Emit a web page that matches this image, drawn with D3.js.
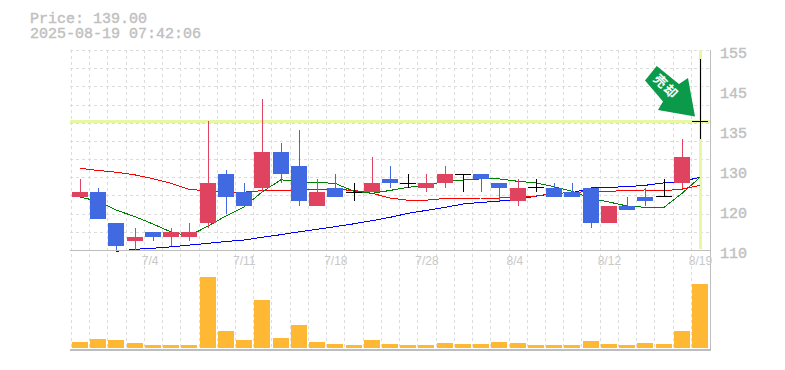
<!DOCTYPE html>
<html lang="en">

<head>
  <meta charset="UTF-8">
  <title>Price chart</title>
  <style>
    html, body { margin: 0; padding: 0; background: #fff; overflow: hidden; }
    text { font-family: "Liberation Mono", monospace; }
  </style>
</head>

<body>
  <svg id="chart" width="785" height="370"></svg>

  <script src="https://cdnjs.cloudflare.com/ajax/libs/d3/7.8.5/d3.min.js"></script>
  <script>
    const dates = ["6/30","7/1","7/2","7/3","7/4","7/7","7/8","7/9","7/10","7/11","7/14","7/15","7/16","7/17","7/18",
      "7/22","7/23","7/24","7/25","7/28","7/29","7/30","7/31","8/1","8/4","8/5","8/6","8/7","8/8","8/12","8/13","8/14","8/15","8/18","8/19"];
    const opens = [122,123,116,112,114,113,113,116,127,123,124,132,129,120,124,123,123,126,125,124,125,127,127,125,121,124,124,123,124,116,120,122,122,125,139];
    const closes = [123,117,111,113,113,114,114,125,122,120,132,127,121,123,122,123,125,125,125,125,127,127,126,124,124,124,122,122,116,120,119,121,122,131,139];
    const highs = [126,124,116,115,114,115,116,139,128,125,144,134,137,126,127,125,131,129,127,127,129,127,127,125,126,126,125,125,124,120,122,124,126,135,153];
    const lows = [122,117,110,110,112,111,112,115,118,120,123,125,120,120,122,121,123,124,124,123,124,123,123,121,120,123,122,122,115,116,119,120,122,124,135];
    const maShort = [121.9,121,119,117.5,115.85,114.05,113.15,115.4,117.65,119.7,123.05,125.8,125.3,125.2,125,123.2,122.75,123.4,124.1,124.6,125.4,125.75,126,126,125.45,125.1,124.25,123.2,121.6,120.8,119.9,119.6,119.6,122.75,126.35];
    const maMid = [128.4,127.9,127.5,126.9,126.05,125,123.65,123.3,123.05,123,123.35,123.4,123.4,123.65,123.65,123.4,122.75,121.7,121.2,121.2,121.6,121.6,121.7,121.7,121.9,122.15,122.75,122.9,123.2,123.2,123.4,123.5,123.35,123.7,124.55];
    const maLong = [null,null,109.7,110.15,110.4,110.7,111.1,111.5,111.9,112.25,112.85,113.45,114.1,114.65,115.25,115.9,116.6,117.35,118.25,118.9,119.6,120.35,120.7,121,121.4,122.1,122.75,122.9,123.95,124.1,124.25,124.55,125.1,125.45,126.35];
    const volumes = [6,9,8,5,3,3,3,71,17,8,48,10,23,6,4,3,8,4,3,3,5,4,4,6,5,3,3,3,7,4,3,5,4,17,64];
    const lastPrice = 139;
    const priceText = "Price: 139.00";
    const timeText = "2025-08-19 07:42:06";
    const priceTicks = [155,146,137,128,119,110];
    const priceTickLabels = ["155","145","135","130","120","110"];
    const dateTicks = ["7/4","7/11","7/18","7/28","8/4","8/12","8/19"];
    const priceGridTicks = d3.range(0, 12).map(i => 110 + i * 45 / 11);

    const left = 70, right = 710, priceTop = 50, priceBottom = 250, volBottom = 350;
    const gridColor = "#dcdcdc", axisColor = "#bdbdbd", labelColor = "#c0c0c0";
    const upColor = "#e04360", downColor = "#4169e1", dojiColor = "#000";

    const svg = d3.select("#chart");

    const x = d3.scaleBand().domain(dates).range([left + 0.9, right - 0.9]);
    const cx = d => Math.round(x(d) + x.bandwidth() / 2);
    const y = d3.scaleLinear().domain([110, 155]).range([priceBottom, priceTop]);
    const yVol = d3.scaleLinear().domain([0, 71]).range([348, 277]);

    // Grid
    const grid = svg.append("g").attr("stroke", gridColor).attr("stroke-dasharray", "3,3")
      .attr("stroke-width", 1).attr("shape-rendering", "crispEdges");
    grid.selectAll("line.v").data(dates).enter().append("line")
      .attr("x1", d => Math.round(x(d))).attr("x2", d => Math.round(x(d)))
      .attr("y1", priceTop).attr("y2", volBottom);
    grid.selectAll("line.h").data(priceGridTicks).enter().append("line")
      .attr("x1", left).attr("x2", right)
      .attr("y1", d => Math.round(y(d))).attr("y2", d => Math.round(y(d)));

    // Last price crosshair
    const hi = svg.append("g").attr("stroke", "#e6f7a5").attr("stroke-width", 3).attr("shape-rendering", "crispEdges");
    hi.append("line").attr("x1", left).attr("x2", right).attr("y1", y(lastPrice)).attr("y2", y(lastPrice));
    hi.append("line").attr("x1", cx("8/19")).attr("x2", cx("8/19")).attr("y1", priceTop).attr("y2", 249);

    // Volume
    svg.append("g").selectAll("rect").data(volumes).enter().append("rect")
      .attr("x", (d, i) => cx(dates[i]) - 8)
      .attr("width", 16)
      .attr("y", d => yVol(d))
      .attr("height", d => yVol(0) - yVol(d))
      .attr("fill", "#ffb833");

    // Moving averages
    const maLine = d3.line()
      .defined(d => d != null)
      .x((d, i) => cx(dates[i]))
      .y(d => y(d));
    [[maLong, "#0000ff"], [maMid, "#ff0000"], [maShort, "#008000"]].forEach(s => {
      svg.append("path").attr("d", maLine(s[0])).attr("fill", "none")
        .attr("stroke", s[1]).attr("stroke-width", 1).attr("shape-rendering", "crispEdges");
    });

    // Candles
    const candleColor = i => closes[i] > opens[i] ? upColor : closes[i] < opens[i] ? downColor : dojiColor;
    const candles = svg.append("g").attr("shape-rendering", "crispEdges");
    dates.forEach((d, i) => {
      candles.append("line")
        .attr("x1", cx(d)).attr("x2", cx(d))
        .attr("y1", y(highs[i])).attr("y2", y(lows[i]))
        .attr("stroke", candleColor(i)).attr("stroke-width", 1);
      if (opens[i] === closes[i]) {
        candles.append("line")
          .attr("x1", cx(d) - 8).attr("x2", cx(d) + 8)
          .attr("y1", y(opens[i])).attr("y2", y(opens[i]))
          .attr("stroke", dojiColor).attr("stroke-width", 1);
      } else {
        candles.append("rect")
          .attr("x", cx(d) - 8).attr("width", 16)
          .attr("y", y(Math.max(opens[i], closes[i])))
          .attr("height", y(Math.min(opens[i], closes[i])) - y(Math.max(opens[i], closes[i])))
          .attr("fill", candleColor(i));
      }
    });

    // Frame
    const frame = svg.append("g").attr("stroke", axisColor).attr("shape-rendering", "crispEdges");
    frame.append("line").attr("x1", left).attr("x2", right).attr("y1", priceBottom).attr("y2", priceBottom).attr("stroke-width", 1);
    frame.append("line").attr("x1", left).attr("x2", right + 1).attr("y1", volBottom).attr("y2", volBottom).attr("stroke-width", 2);
    frame.append("line").attr("x1", right).attr("x2", right).attr("y1", priceTop).attr("y2", volBottom).attr("stroke-width", 1);

    // Price axis
    const yAxis = d3.axisRight(y).tickValues(priceTicks)
      .tickFormat((d, i) => priceTickLabels[i]).tickSize(0).tickPadding(0);
    const yG = svg.append("g").attr("transform", "translate(720,3)").call(yAxis);
    yG.select(".domain").remove();
    yG.selectAll("text").attr("fill", labelColor).attr("stroke", labelColor).attr("stroke-width", 0.4).style("font-size", "15px");

    // Date axis, labels start just left of their band
    const xAxis = d3.axisBottom(x).tickValues(dateTicks).tickSize(0).tickPadding(0);
    const xG = svg.append("g").attr("transform", "translate(" + (-x.bandwidth() / 2 - 2) + "," + (priceBottom + 6) + ")").call(xAxis);
    xG.select(".domain").remove();
    xG.selectAll("text").attr("fill", "#c8c8c8").attr("text-anchor", "start")
      .style("font-family", "'Liberation Sans'").style("font-size", "12px");

    // Titles
    const title = svg.append("text").attr("fill", labelColor).attr("stroke", labelColor).attr("stroke-width", 0.4).style("font-size", "15px");
    title.append("tspan").attr("x", 30).attr("y", 23).text(priceText);
    title.append("tspan").attr("x", 30).attr("y", 38).text(timeText);

    // Sell arrow, tip sits just above and left of the last price
    const arrow = svg.append("g").attr("transform", "translate(" + (cx("8/19") - 5) + "," + (y(lastPrice) - 4.5) + ")");
    arrow.append("path")
      .attr("d", "M-38.3,-50.7L-50,-36L-32,-15L-37,-6.7L0,0L-7,-38.7L-16,-32.7Z")
      .attr("fill", "#0b9a4a");
    arrow.append("text")
      .attr("transform", "translate(-29,-30) rotate(45)")
      .attr("text-anchor", "middle").attr("dy", "0.36em")
      .attr("fill", "#fff").style("font-family", "'Noto Sans CJK JP'").style("font-size", "13px").style("font-weight", "bold")
      .style("letter-spacing", "1.5px")
      .text("売却");
  </script>
</body>

</html>
